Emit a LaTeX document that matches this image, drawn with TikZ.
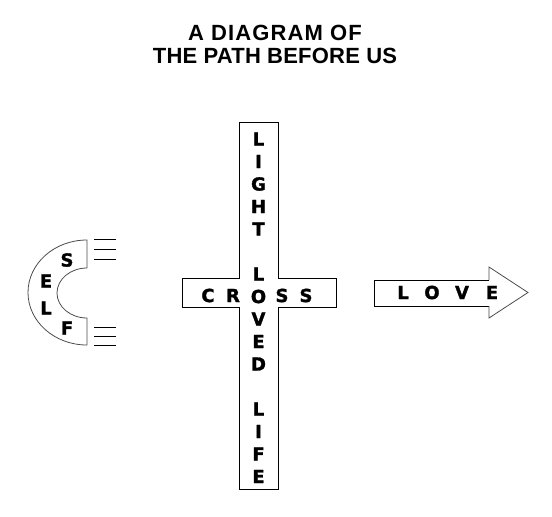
\documentclass[tikz,border=0pt]{standalone}
\usepackage{fontspec}
\setmainfont{Liberation Sans}
\newfontfamily\letterfont[BoldFont={DejaVu Sans Bold}, BoldFeatures={FakeBold=1.5}]{DejaVu Sans}
\begin{document}
\begin{tikzpicture}[x=1pt,y=-1pt,
  titletext/.style={font=\fontsize{22}{26}\selectfont\bfseries, inner sep=0pt, text height=15.8pt, text depth=0pt, anchor=center},
  glyph/.style={font=\letterfont\fontsize{18}{21}\selectfont\bfseries, inner sep=0pt, text height=13.1pt, text depth=0pt, anchor=center},
  outline/.style={draw=black, line width=0.8pt},
  grayline/.style={draw=black!70, line width=0.8pt}]
\useasboundingbox (0,0) rectangle (552,517);
\fill[white] (0,0) rectangle (552,517);
% title
\node[titletext] (t1) at (275,32.5) {\addfontfeature{LetterSpace=5}A DIAGRAM OF};
\node[titletext] (t2) at (275,56) {\addfontfeature{LetterSpace=1}THE PATH BEFORE US};
% cross
\draw[outline] (239,122) -- (278,122) -- (278,278) -- (336,278) -- (336,307) -- (278,307)
  -- (278,489) -- (239,489) -- (239,307) -- (182,307) -- (182,278) -- (239,278) -- cycle;
\foreach \ch [count=\k from 0] in {L,I,G,H,T,{},L,O,V,E,D,{},L,I,F,E}
  \node[glyph] (v\k) at (258.5,{139+22.5*\k}) {\ch};
\node[glyph] (c1) at (208,295.5) {C};
\node[glyph] (c2) at (233,295.5) {R};
\node[glyph] (c4) at (282,295.5) {S};
\node[glyph] (c5) at (306,295.5) {S};
% self shape
\draw[grayline] (87,240) arc[start angle=-90, end angle=-270, x radius=59, y radius=52.5]
  -- (87,318) arc[start angle=90, end angle=270, x radius=30, y radius=25] -- cycle;
\foreach \yy [count=\i] in {239,249,259,327,336,345}
  \draw[outline] (94,\yy) coordinate (la\i) -- (116,\yy) coordinate (lb\i);
\node[glyph] (s1) at (67,260) {S};
\node[glyph] (s2) at (46,281) {E};
\node[glyph] (s3) at (46,308) {L};
\node[glyph] (s4) at (67,328) {F};
% love arrow
\draw[outline] (489,280) -- (374,280) -- (374,306) -- (489,306);
\draw[grayline] (489,306) -- (489,318) -- (528,292.5) -- (489,267) -- (489,280);
\node[glyph] (a1) at (403,292.5) {L};
\node[glyph] (a2) at (432,292.5) {O};
\node[glyph] (a3) at (462,292.5) {V};
\node[glyph] (a4) at (492,292.5) {E};
\end{tikzpicture}
\end{document}
